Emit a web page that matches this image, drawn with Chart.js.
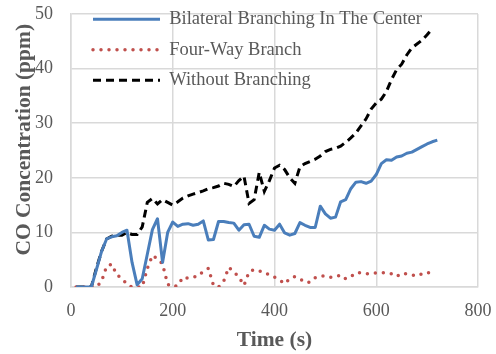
<!DOCTYPE html>
<html><head><meta charset="utf-8">
<script src="https://cdn.jsdelivr.net/npm/chart.js@4.4.0/dist/chart.umd.min.js"></script>
<style>html,body{margin:0;padding:0;background:#fff;}canvas{display:block;}</style>
</head><body>
<canvas id="c" width="496" height="354"></canvas>
<script>
const times = [10,20,30,40,50,60,70,80,90,100,110,120,130,140,150,160,170,180,190,200,
  210,220,230,240,250,260,270,280,290,300,310,320,330,340,350,360,370,380,390,400,
  410,420,430,440,450,460,470,480,490,500,510,520,530,540,550,560,570,580,590,600,
  610,620,630,640,650,660,670,680,690,700,710,720];

const bilateral = [0,0,0,0,3.2,6.5,8.8,9.2,9.4,10,10.4,4.5,0.4,1.5,6,10.5,12.5,4.5,10,11.9,
  11.1,11.5,11.6,11.3,11.5,12.1,8.6,8.7,12,12,11.8,11.7,10.4,11.4,11.5,9.3,9.1,11.3,10.6,10.4,
  11.5,9.9,9.5,9.8,11.8,11.3,10.9,10.9,14.8,13.4,12.6,12.8,15.6,16,18,19.2,19.3,19,19.4,20.6,
  22.6,23.3,23.2,23.8,24,24.5,24.7,25.2,25.7,26.2,26.6,26.9];

const fourWay = [0,0,0,0,0,1,3.8,4.2,2.2,1.6,0.5,0,0,0,3.4,5.8,5.2,4.2,0.5,0,
  0.3,1.8,1.6,1.8,2,2.9,3.4,0.3,0,1,3.6,2.8,1.8,0.3,2.8,3.2,3,2.5,2.3,1.8,
  1.3,0.6,1.5,1.9,1.5,0.85,0.9,1.7,2,2.05,1.8,1.9,2.2,1.5,1.9,2.6,2.6,2.4,2.5,2.6,
  2.6,2.6,2.4,1.9,2.5,2.4,2.2,2,2.4,2.7,2.4,null];

const withoutBranching = [0,0,0,0,3.5,6.5,8.8,9.3,9.5,9.5,10,9.6,9.6,11,15.5,16.2,15.2,16,15.5,15,
  15.6,16.3,16.7,17,17.3,17.6,18,18.2,18.5,19,18.8,18.4,19.5,20.3,15.3,16,21,17.5,19.5,21.8,
  22.3,21.5,20,19,22,22.6,23,23.4,24,24.8,25.2,25.4,25.8,26.5,27.3,28.2,29.5,30.8,32.6,33.7,
  34.4,35.8,38,39.8,40.8,42.5,43.8,44.5,45.2,46.2,47.3,null];

const seriesNames = ['Bilateral Branching In The Center', 'Four-Way Branch', 'Without Branching'];
const xTicks = [0, 200, 400, 600, 800];
const yTicks = [0, 10, 20, 30, 40, 50];
const xTitle = 'Time (s)';
const yTitle = 'CO Concentration (ppm)';

const toPoints = arr => times.map((t, i) => ({ x: t, y: arr[i] }));
const FONT = "'Liberation Serif', 'Times New Roman', serif";
const TEXT = '#595959';
const GRID = '#d9d9d9';

const legendShift = {
  id: 'legendShift',
  afterLayout(chart) {
    const l = chart.legend, a = chart.chartArea;
    if (!l) return;
    l.left = a.left + 10;
    l.right = a.right;
    l.top = a.top - 16;
    l.bottom = a.bottom;
  }
};

new Chart(document.getElementById('c'), {
  type: 'line',
  data: {
    datasets: [
      { label: seriesNames[0], data: toPoints(bilateral), borderColor: '#4a7ebb', borderWidth: 3,
        pointRadius: 0, tension: 0, fill: false, borderJoinStyle: 'round' },
      { label: seriesNames[1], data: toPoints(fourWay), borderColor: '#c0504d', borderWidth: 3.5,
        borderDash: [0, 8], borderCapStyle: 'round', pointRadius: 0, tension: 0, fill: false },
      { label: seriesNames[2], data: toPoints(withoutBranching), borderColor: '#000000', borderWidth: 3,
        borderDash: [8, 5], pointRadius: 0, tension: 0, fill: false }
    ]
  },
  options: {
    responsive: false,
    devicePixelRatio: 1,
    animation: false,
    layout: { padding: { top: 14, right: 18, left: 0, bottom: 0 } },
    plugins: {
      tooltip: { enabled: false },
      legend: {
        position: 'chartArea',
        align: 'start',
        labels: {
          font: { family: FONT, size: 18.5 },
          color: TEXT,
          usePointStyle: true,
          pointStyle: 'line',
          pointStyleWidth: 67,
          padding: 12,
          generateLabels(chart) {
            const items = Chart.defaults.plugins.legend.labels.generateLabels(chart);
            items.forEach(it => {
              const ds = chart.data.datasets[it.datasetIndex];
              it.lineDash = ds.borderDash || [];
              it.lineCap = ds.borderCapStyle || 'butt';
              it.lineWidth = ds.borderWidth;
              it.strokeStyle = ds.borderColor;
              it.pointStyle = 'line';
              it.fontColor = TEXT;
            });
            return items;
          }
        }
      }
    },
    scales: {
      x: {
        type: 'linear',
        min: xTicks[0], max: xTicks[xTicks.length - 1],
        afterFit(scale) { scale.height = 67; },
        ticks: { stepSize: xTicks[1] - xTicks[0], padding: 3, color: TEXT, font: { family: FONT, size: 18 } },
        grid: { color: GRID, lineWidth: 1.5, drawTicks: true, tickLength: 10, tickColor: 'rgba(0,0,0,0)' },
        border: { color: GRID, width: 1.5 },
        title: { display: true, text: xTitle, color: TEXT, font: { family: FONT, size: 21.5, weight: 'bold' },
          padding: { top: 0, bottom: 0.6 } }
      },
      y: {
        type: 'linear',
        min: yTicks[0], max: yTicks[yTicks.length - 1],
        afterFit(scale) { scale.width = 71; },
        ticks: { stepSize: yTicks[1] - yTicks[0], padding: 3, color: TEXT, font: { family: FONT, size: 18 } },
        grid: { color: GRID, lineWidth: 1.5, drawTicks: true, tickLength: 15, tickColor: 'rgba(0,0,0,0)' },
        border: { color: GRID, width: 1.5 },
        title: { display: true, text: '    ' + yTitle, color: TEXT, font: { family: FONT, size: 21.5, weight: 'bold' },
          padding: { top: 12, bottom: 0 } }
      }
    }
  },
  plugins: [legendShift]
});
</script>
</body></html>
